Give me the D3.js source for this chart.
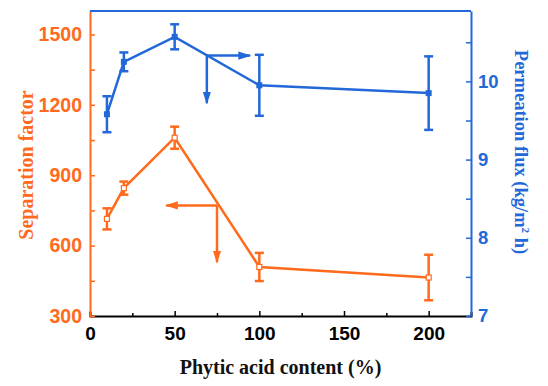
<!DOCTYPE html>
<html><head><meta charset="utf-8">
<script src="https://cdn.jsdelivr.net/npm/d3@7"></script>
<style>body{margin:0;background:#fff}svg{display:block}</style>
</head><body>
<script>
const content = [10, 20, 50, 100, 200];
const sepFactor = [714, 845, 1060, 509, 464];
const sepErr = [45, 28, 47, 60, 97];
const flux = [9.58, 10.25, 10.57, 9.95, 9.85];
const fluxErr = [0.23, 0.12, 0.16, 0.39, 0.47];
const xTicks = [0, 50, 100, 150, 200];
const leftTicks = [300, 600, 900, 1200, 1500];
const rightTicks = [7, 8, 9, 10];

const W = 548, H = 386;
const orange = "#FF6A1C", blue = "#2268D8";
const m = {l: 90, r: 471, t: 11, b: 316};
const svg = d3.select("body").append("svg").attr("width", W).attr("height", H)
  .style("font-family", "'Liberation Serif','Times New Roman',serif").style("font-weight", "bold");

const x = d3.scaleLinear().domain([0, 225]).range([m.l, m.r]);
const yL = d3.scaleLinear().domain([300, 1600]).range([m.b, m.t]);
const yR = d3.scaleLinear().domain([7, 10.9]).range([m.b, m.t]);

// axes
const gx = svg.append("g").attr("transform", `translate(0,${m.b})`)
  .call(d3.axisBottom(x).tickValues(d3.range(0, 226, 25)).tickSize(-4).tickFormat(d => xTicks.includes(d) ? d : "").tickPadding(8));
gx.selectAll("line").attr("stroke", "#000").attr("stroke-width", 1.5).attr("y2", d => d % 50 === 0 ? -5 : -3);
gx.select(".domain").attr("stroke", "#000").attr("stroke-width", 2);
gx.selectAll("text").attr("font-size", 19).attr("fill", "#000").attr("dy", "0.75em").attr("y", 10);

const gl = svg.append("g").attr("transform", `translate(${m.l},0)`)
  .call(d3.axisLeft(yL).tickValues(d3.range(300, 1601, 150)).tickSizeInner(-5).tickSizeOuter(0).tickFormat(d => leftTicks.includes(d) ? d : "").tickPadding(8));
gl.selectAll("line").attr("stroke", orange).attr("stroke-width", 1.5);
gl.select(".domain").attr("stroke", orange).attr("stroke-width", 2);
gl.selectAll("text").attr("font-size", 19.5).attr("fill", orange).attr("x", -8);

const gr = svg.append("g").attr("transform", `translate(${m.r},0)`)
  .call(d3.axisRight(yR).tickValues(d3.range(7, 10.91, 0.5)).tickSizeInner(-5).tickSizeOuter(0).tickFormat(d => rightTicks.includes(d) ? d : "").tickPadding(8));
gr.selectAll("line").attr("stroke", blue).attr("stroke-width", 1.5);
gr.select(".domain").attr("stroke", blue).attr("stroke-width", 2);
gr.selectAll("text").attr("font-size", 18.5).attr("fill", blue).attr("x", 7);

// top border
svg.append("line").attr("x1", x(0)).attr("x2", x(225)).attr("y1", m.t).attr("y2", m.t)
  .attr("stroke", blue).attr("stroke-width", 2);

// axis titles
svg.append("text").attr("x", (m.l + m.r) / 2 - 0).attr("y", 374).attr("text-anchor", "middle")
  .attr("font-size", 20).attr("fill", "#111").text("Phytic acid content (%)");
svg.append("text").attr("transform", `translate(33,165) rotate(-90)`).attr("text-anchor", "middle")
  .attr("font-size", 20).attr("fill", orange).text("Separation factor");
const rt = svg.append("text").attr("transform", `translate(515,152) rotate(90)`).attr("text-anchor", "middle")
  .attr("font-size", 18.5).attr("fill", blue);
rt.append("tspan").text("Permeation flux (kg/m");
rt.append("tspan").attr("font-size", 11).attr("dy", -7).text("2");
rt.append("tspan").attr("dy", 7).text(" h)");

const defs = svg.append("defs");
function marker(id, col) {
  defs.append("marker").attr("id", id).attr("viewBox", "0 0 10 10").attr("refX", 9).attr("refY", 5)
    .attr("markerWidth", 5.2).attr("markerHeight", 3.3).attr("markerUnits", "strokeWidth").attr("orient", "auto")
    .attr("preserveAspectRatio", "none")
    .append("path").attr("d", "M0,0 L10,5 L0,10 Z").attr("fill", col);
}
marker("ao", orange); marker("ab", blue);

function series(vals, errs, y, col, filled) {
  const g = svg.append("g");
  const pts = content.map((c, i) => ({c, v: vals[i], e: errs[i]}));
  g.append("path").datum(pts).attr("fill", "none").attr("stroke", col).attr("stroke-width", 2.5)
    .attr("d", d3.line().x(d => x(d.c)).y(d => y(d.v)));
  const eb = g.selectAll(".eb").data(pts).join("g");
  eb.append("line").attr("x1", d => x(d.c)).attr("x2", d => x(d.c)).attr("y1", d => y(d.v - d.e)).attr("y2", d => y(d.v + d.e))
    .attr("stroke", col).attr("stroke-width", 2.5);
  [-1, 1].forEach(s => eb.append("line").attr("x1", d => x(d.c) - 4.5).attr("x2", d => x(d.c) + 4.5)
    .attr("y1", d => y(d.v + s * d.e)).attr("y2", d => y(d.v + s * d.e)).attr("stroke", col).attr("stroke-width", 2.5));
  const s = filled ? 6 : 5;
  g.selectAll(".pt").data(pts).join("rect").attr("x", d => x(d.c) - s / 2).attr("y", d => y(d.v) - s / 2)
    .attr("width", s).attr("height", s).attr("fill", filled ? col : "#fff").attr("stroke", col).attr("stroke-width", filled ? 0 : 1.2);
}
series(sepFactor, sepErr, yL, orange, false);
series(flux, fluxErr, yR, blue, true);

// arrows
function arrowPair(cx, cy, hx, vy, y, col, id) {
  svg.append("line").attr("x1", x(cx)).attr("y1", y(cy)).attr("x2", x(hx)).attr("y2", y(cy))
    .attr("stroke", col).attr("stroke-width", 2.5).attr("marker-end", `url(#${id})`);
  svg.append("line").attr("x1", x(cx)).attr("y1", y(cy)).attr("x2", x(cx)).attr("y2", y(vy))
    .attr("stroke", col).attr("stroke-width", 2.5).attr("marker-end", `url(#${id})`);
}
arrowPair(69, 10.33, 94.5, 9.72, yR, blue, "ab");
arrowPair(75, 771, 45, 529, yL, orange, "ao");
</script>
</body></html>
